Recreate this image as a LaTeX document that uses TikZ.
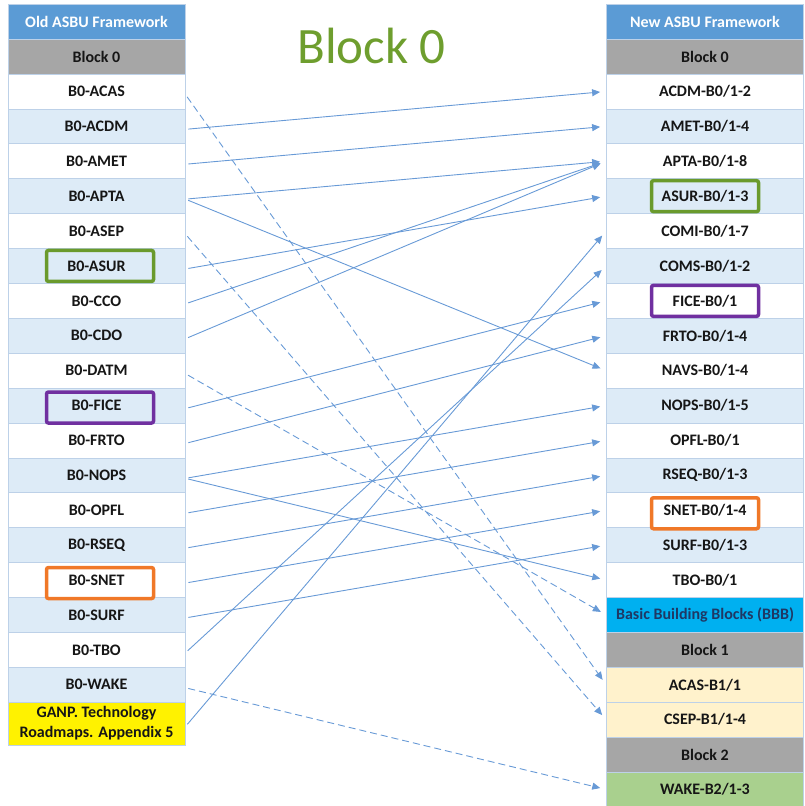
\documentclass[tikz,border=0pt]{standalone}
\usepackage{fontspec}
\setmainfont{Carlito}
\usetikzlibrary{arrows.meta,positioning}

\definecolor{hdrblue}{RGB}{91,155,213}
\definecolor{blkgray}{RGB}{166,166,166}
\definecolor{rowblue}{RGB}{221,235,247}
\definecolor{gridc}{RGB}{189,209,232}
\definecolor{bbbblue}{RGB}{0,176,240}
\definecolor{bbbtext}{RGB}{31,56,100}
\definecolor{tanfill}{RGB}{255,242,204}
\definecolor{wakegreen}{RGB}{169,208,142}
\definecolor{linkc}{RGB}{104,154,214}
\definecolor{titlegreen}{RGB}{110,158,46}
\definecolor{hlgreen}{RGB}{106,154,44}
\definecolor{hlpurple}{RGB}{112,48,160}
\definecolor{hlorange}{RGB}{240,120,40}
\definecolor{txt}{RGB}{22,22,22}

\begin{document}
\begin{tikzpicture}[x=1pt,y=-1pt,
	cell/.style={draw=gridc, line width=0.8pt, inner sep=0pt,
		minimum height=34.9pt, text=txt,
		font=\bfseries\fontsize{16}{20}\selectfont},
	oldc/.style={cell, minimum width=177pt},
	newc/.style={cell, minimum width=197pt},
	head/.style={fill=hdrblue, text=white},
	blk/.style={fill=blkgray},
	hibox/.style={draw, line width=3.5pt, rounded corners=2pt,
		minimum width=107pt, minimum height=31pt, inner sep=0pt},
	link/.style={draw=linkc, line width=0.9pt,
		-{Triangle[length=8pt,width=7pt]}, shorten >=6pt, shorten <=3pt},
	dlink/.style={link, dash pattern=on 7pt off 4pt}]
	\useasboundingbox (0,0) rectangle (804,806);

	\node[anchor=base, text=titlegreen, font=\fontsize{51}{60}\selectfont] (title) at (371.5,63) {Block 0};

	% old framework
	\node[oldc, head] (lhead) at (96.5,21.5) {Old ASBU Framework};
	\node[oldc, blk] (lblk) at (96.5,56.5) {Block 0};
	\foreach \nm/\lab/\fl [count=\i from 0] in {acas/B0-ACAS/white, acdm/B0-ACDM/rowblue,
		amet/B0-AMET/white, apta/B0-APTA/rowblue, asep/B0-ASEP/white, asur/B0-ASUR/rowblue,
		cco/B0-CCO/white, cdo/B0-CDO/rowblue, datm/B0-DATM/white, fice/B0-FICE/rowblue,
		frto/B0-FRTO/white, nops/B0-NOPS/rowblue, opfl/B0-OPFL/white, rseq/B0-RSEQ/rowblue,
		snet/B0-SNET/white, surf/B0-SURF/rowblue, tbo/B0-TBO/white, wake/B0-WAKE/rowblue}
		\node[oldc, fill=\fl] (l\nm) at (96.5,{91.45+34.9*\i}) {\lab};
	\node[oldc, fill=yellow, minimum height=43pt, align=center] (lganp) at (96.5,723.6)
		{GANP. Technology\\Roadmaps. Appendix 5};

	% new framework
	\node[newc, head] (rhead) at (705,21.5) {New ASBU Framework};
	\node[newc, blk] (rblk) at (705,56.5) {Block 0};
	\foreach \nm/\lab/\fl [count=\i from 0] in {acdm/{ACDM-B0/1-2}/white, amet/{AMET-B0/1-4}/rowblue,
		apta/{APTA-B0/1-8}/white, asur/{ASUR-B0/1-3}/rowblue, comi/{COMI-B0/1-7}/white,
		coms/{COMS-B0/1-2}/rowblue, fice/{FICE-B0/1}/white, frto/{FRTO-B0/1-4}/rowblue,
		navs/{NAVS-B0/1-4}/white, nops/{NOPS-B0/1-5}/rowblue, opfl/{OPFL-B0/1}/white,
		rseq/{RSEQ-B0/1-3}/rowblue, snet/{SNET-B0/1-4}/white, surf/{SURF-B0/1-3}/rowblue,
		tbo/{TBO-B0/1}/white}
		\node[newc, fill=\fl] (r\nm) at (705,{91.45+34.9*\i}) {\lab};
	\node[newc, fill=bbbblue, text=bbbtext] (rbbb) at (705,{91.45+34.9*15}) {Basic Building Blocks (BBB)};
	\node[newc, blk] (rblkb) at (705,{91.45+34.9*16}) {Block 1};
	\node[newc, fill=tanfill] (racas) at (705,{91.45+34.9*17}) {ACAS-B1/1};
	\node[newc, fill=tanfill] (rcsep) at (705,{91.45+34.9*18}) {CSEP-B1/1-4};
	\node[newc, blk] (rblkc) at (705,{91.45+34.9*19}) {Block 2};
	\node[newc, fill=wakegreen] (rwake) at (705,{91.45+34.9*20}) {WAKE-B2/1-3};

	% highlights
	\node[hibox, draw=hlgreen, xshift=3.5pt] (hlasur) at (lasur) {};
	\node[hibox, draw=hlpurple, xshift=3.5pt, yshift=-2pt] (hlfice) at (lfice) {};
	\node[hibox, draw=hlorange, xshift=3.5pt, yshift=-3pt] (hlsnet) at (lsnet) {};
	\node[hibox, draw=hlgreen] (hrasur) at (rasur) {};
	\node[hibox, draw=hlpurple] (hrfice) at (rfice) {};
	\node[hibox, draw=hlorange, yshift=-3pt] (hrsnet) at (rsnet) {};

	% mapping
	\foreach \a/\b in {acdm/acdm, amet/amet, apta/apta, apta/navs, asur/asur, cco/apta,
		cdo/apta, fice/fice, frto/frto, nops/nops, nops/tbo, opfl/opfl, rseq/rseq,
		snet/snet, surf/surf, tbo/coms, ganp/comi}
		\draw[link] ([yshift=-3pt]l\a.east) -- (r\b.west);
	\foreach \a/\b in {acas/acas, asep/csep, datm/bbb, wake/wake}
		\draw[dlink] ([yshift=-3pt]l\a.east) -- (r\b.west);
\end{tikzpicture}
\end{document}
